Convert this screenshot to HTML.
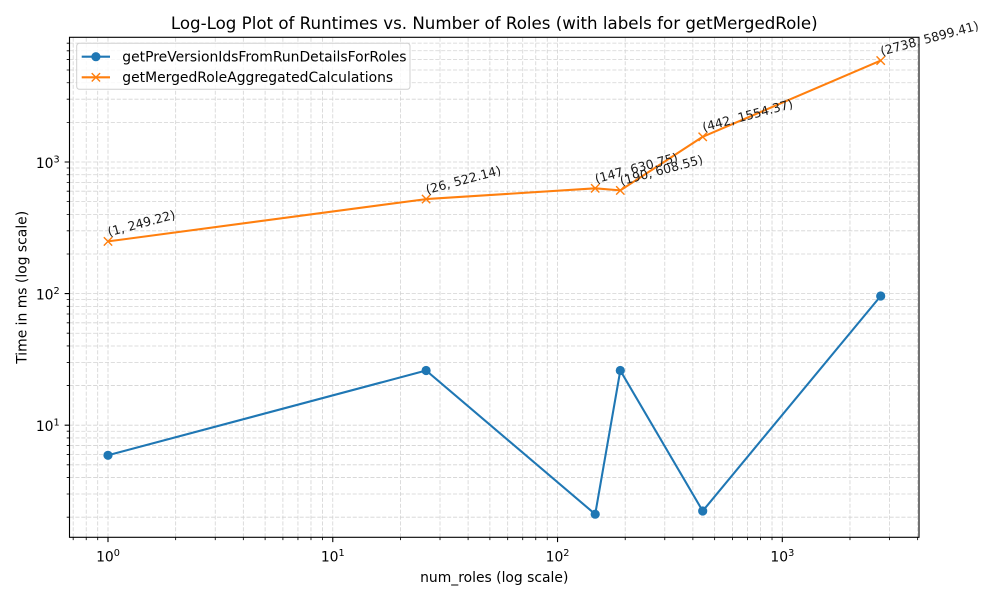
<!DOCTYPE html>
<html>
<head>
<meta charset="utf-8">
<style>
html,body{margin:0;padding:0;background:#fff;}
svg{display:block;}
text{font-family:"DejaVu Sans","Liberation Sans",sans-serif;}
</style>
</head>
<body>
<svg width="1000" height="600" viewBox="0 0 1000 600" xmlns="http://www.w3.org/2000/svg">
<rect x="0" y="0" width="1000" height="600" fill="#fff"/>

<!-- grid -->
<g stroke="#d3d3d3" stroke-width="0.8" stroke-dasharray="4.1 1.8" fill="none">
<path d="M73.18 537.3V37.3M86.22 537.3V37.3M97.71 537.3V37.3M108 537.3V37.3M175.66 537.3V37.3M215.24 537.3V37.3M243.33 537.3V37.3M265.11 537.3V37.3M282.91 537.3V37.3M297.95 537.3V37.3M310.99 537.3V37.3M322.48 537.3V37.3M332.77 537.3V37.3M400.43 537.3V37.3M440.01 537.3V37.3M468.1 537.3V37.3M489.88 537.3V37.3M507.68 537.3V37.3M522.72 537.3V37.3M535.76 537.3V37.3M547.25 537.3V37.3M557.54 537.3V37.3M625.2 537.3V37.3M664.78 537.3V37.3M692.87 537.3V37.3M714.65 537.3V37.3M732.45 537.3V37.3M747.49 537.3V37.3M760.53 537.3V37.3M772.02 537.3V37.3M782.31 537.3V37.3M849.97 537.3V37.3M889.55 537.3V37.3M917.64 537.3V37.3"/>
<path d="M69.5 517.18H919M69.5 494.01H919M69.5 477.57H919M69.5 464.82H919M69.5 454.4H919M69.5 445.58H919M69.5 437.95H919M69.5 431.22H919M69.5 425.2H919M69.5 385.58H919M69.5 362.41H919M69.5 345.97H919M69.5 333.22H919M69.5 322.8H919M69.5 313.98H919M69.5 306.35H919M69.5 299.62H919M69.5 293.6H919M69.5 253.98H919M69.5 230.81H919M69.5 214.37H919M69.5 201.62H919M69.5 191.2H919M69.5 182.38H919M69.5 174.75H919M69.5 168.02H919M69.5 162H919M69.5 122.38H919M69.5 99.21H919M69.5 82.77H919M69.5 70.02H919M69.5 59.6H919M69.5 50.78H919M69.5 43.15H919"/>
</g>

<!-- data lines -->
<polyline points="108,455.3 426.1,370.5 595.2,514.2 620.3,370.5 702.7,511 880.7,296" fill="none" stroke="#1f77b4" stroke-width="2.08" stroke-linejoin="round"/>
<g fill="#1f77b4">
<circle cx="108" cy="455.3" r="4.6"/>
<circle cx="426.1" cy="370.5" r="4.6"/>
<circle cx="595.2" cy="514.2" r="4.6"/>
<circle cx="620.3" cy="370.5" r="4.6"/>
<circle cx="702.7" cy="511" r="4.6"/>
<circle cx="880.7" cy="296" r="4.6"/>
</g>
<polyline points="108,241.4 426.1,199.1 595.2,188.3 620.3,190.4 702.7,136.8 880.7,60.6" fill="none" stroke="#ff7f0e" stroke-width="2.08" stroke-linejoin="round"/>
<g stroke="#ff7f0e" stroke-width="1.4" fill="none">
<path d="M103.83 237.23L112.17 245.57M103.83 245.57L112.17 237.23"/>
<path d="M421.93 194.93L430.27 203.27M421.93 203.27L430.27 194.93"/>
<path d="M591.03 184.13L599.37 192.47M591.03 192.47L599.37 184.13"/>
<path d="M616.13 186.23L624.47 194.57M616.13 194.57L624.47 186.23"/>
<path d="M698.53 132.63L706.87 140.97M698.53 140.97L706.87 132.63"/>
<path d="M876.53 56.43L884.87 64.77M876.53 64.77L884.87 56.43"/>
</g>

<!-- annotations -->
<g font-size="12.5" fill="#1a1a1a">
<text transform="translate(109,236.4) rotate(-15)">(1, 249.22)</text>
<text transform="translate(427.1,194.1) rotate(-15)">(26, 522.14)</text>
<text transform="translate(596.2,183.3) rotate(-15)">(147, 630.75)</text>
<text transform="translate(621.3,185.4) rotate(-15)">(190, 608.55)</text>
<text transform="translate(703.7,131.8) rotate(-15)">(442, 1554.37)</text>
<text transform="translate(881.7,55.6) rotate(-15)">(2738, 5899.41)</text>
</g>

<!-- spines -->
<rect x="69.5" y="37.3" width="849.5" height="500" fill="none" stroke="#000" stroke-width="1.11"/>

<!-- ticks -->
<g stroke="#000" fill="none">
<path stroke-width="1.11" d="M108 537.3v4.86M332.77 537.3v4.86M557.54 537.3v4.86M782.31 537.3v4.86M69.5 425.2h-4.86M69.5 293.6h-4.86M69.5 162h-4.86"/>
<path stroke-width="0.83" d="M73.18 537.3v2.78M86.22 537.3v2.78M97.71 537.3v2.78M175.66 537.3v2.78M215.24 537.3v2.78M243.33 537.3v2.78M265.11 537.3v2.78M282.91 537.3v2.78M297.95 537.3v2.78M310.99 537.3v2.78M322.48 537.3v2.78M400.43 537.3v2.78M440.01 537.3v2.78M468.1 537.3v2.78M489.88 537.3v2.78M507.68 537.3v2.78M522.72 537.3v2.78M535.76 537.3v2.78M547.25 537.3v2.78M625.2 537.3v2.78M664.78 537.3v2.78M692.87 537.3v2.78M714.65 537.3v2.78M732.45 537.3v2.78M747.49 537.3v2.78M760.53 537.3v2.78M772.02 537.3v2.78M849.97 537.3v2.78M889.55 537.3v2.78M917.64 537.3v2.78"/>
<path stroke-width="0.83" d="M69.5 517.18h-2.78M69.5 494.01h-2.78M69.5 477.57h-2.78M69.5 464.82h-2.78M69.5 454.4h-2.78M69.5 445.58h-2.78M69.5 437.95h-2.78M69.5 431.22h-2.78M69.5 385.58h-2.78M69.5 362.41h-2.78M69.5 345.97h-2.78M69.5 333.22h-2.78M69.5 322.8h-2.78M69.5 313.98h-2.78M69.5 306.35h-2.78M69.5 299.62h-2.78M69.5 253.98h-2.78M69.5 230.81h-2.78M69.5 214.37h-2.78M69.5 201.62h-2.78M69.5 191.2h-2.78M69.5 182.38h-2.78M69.5 174.75h-2.78M69.5 168.02h-2.78M69.5 122.38h-2.78M69.5 99.21h-2.78M69.5 82.77h-2.78M69.5 70.02h-2.78M69.5 59.6h-2.78M69.5 50.78h-2.78M69.5 43.15h-2.78"/>
</g>

<!-- tick labels -->
<g font-size="13.9" fill="#000">
<text x="108" y="561.5" text-anchor="middle">10<tspan font-size="9.7" dy="-5.6">0</tspan></text>
<text x="332.77" y="561.5" text-anchor="middle">10<tspan font-size="9.7" dy="-5.6">1</tspan></text>
<text x="557.54" y="561.5" text-anchor="middle">10<tspan font-size="9.7" dy="-5.6">2</tspan></text>
<text x="782.31" y="561.5" text-anchor="middle">10<tspan font-size="9.7" dy="-5.6">3</tspan></text>
<text x="59.7" y="431.2" text-anchor="end">10<tspan font-size="9.7" dy="-5.6">1</tspan></text>
<text x="59.7" y="299.6" text-anchor="end">10<tspan font-size="9.7" dy="-5.6">2</tspan></text>
<text x="59.7" y="168" text-anchor="end">10<tspan font-size="9.7" dy="-5.6">3</tspan></text>
</g>

<!-- axis labels -->
<text x="494.25" y="582" font-size="13.9" text-anchor="middle" fill="#000">num_roles (log scale)</text>
<text transform="translate(26.3,287.3) rotate(-90)" font-size="13.9" text-anchor="middle" fill="#000">Time in ms (log scale)</text>

<!-- title -->
<text x="494.25" y="29" font-size="16.67" text-anchor="middle" fill="#000">Log-Log Plot of Runtimes vs. Number of Roles (with labels for getMergedRole)</text>

<!-- legend -->
<rect x="76.7" y="43.3" width="333.3" height="46" rx="2.8" ry="2.8" fill="#fff" fill-opacity="0.8" stroke="#d0d0d0" stroke-width="1"/>
<line x1="81.7" y1="56.7" x2="110" y2="56.7" stroke="#1f77b4" stroke-width="2.08"/>
<circle cx="95.9" cy="56.7" r="4.6" fill="#1f77b4"/>
<line x1="81.7" y1="77.3" x2="110" y2="77.3" stroke="#ff7f0e" stroke-width="2.08"/>
<path d="M91.73 73.13L100.07 81.47M91.73 81.47L100.07 73.13" stroke="#ff7f0e" stroke-width="1.4"/>
<text x="122.3" y="61.5" font-size="13.9" fill="#000">getPreVersionIdsFromRunDetailsForRoles</text>
<text x="122.3" y="82" font-size="13.9" fill="#000">getMergedRoleAggregatedCalculations</text>
</svg>
</body>
</html>
